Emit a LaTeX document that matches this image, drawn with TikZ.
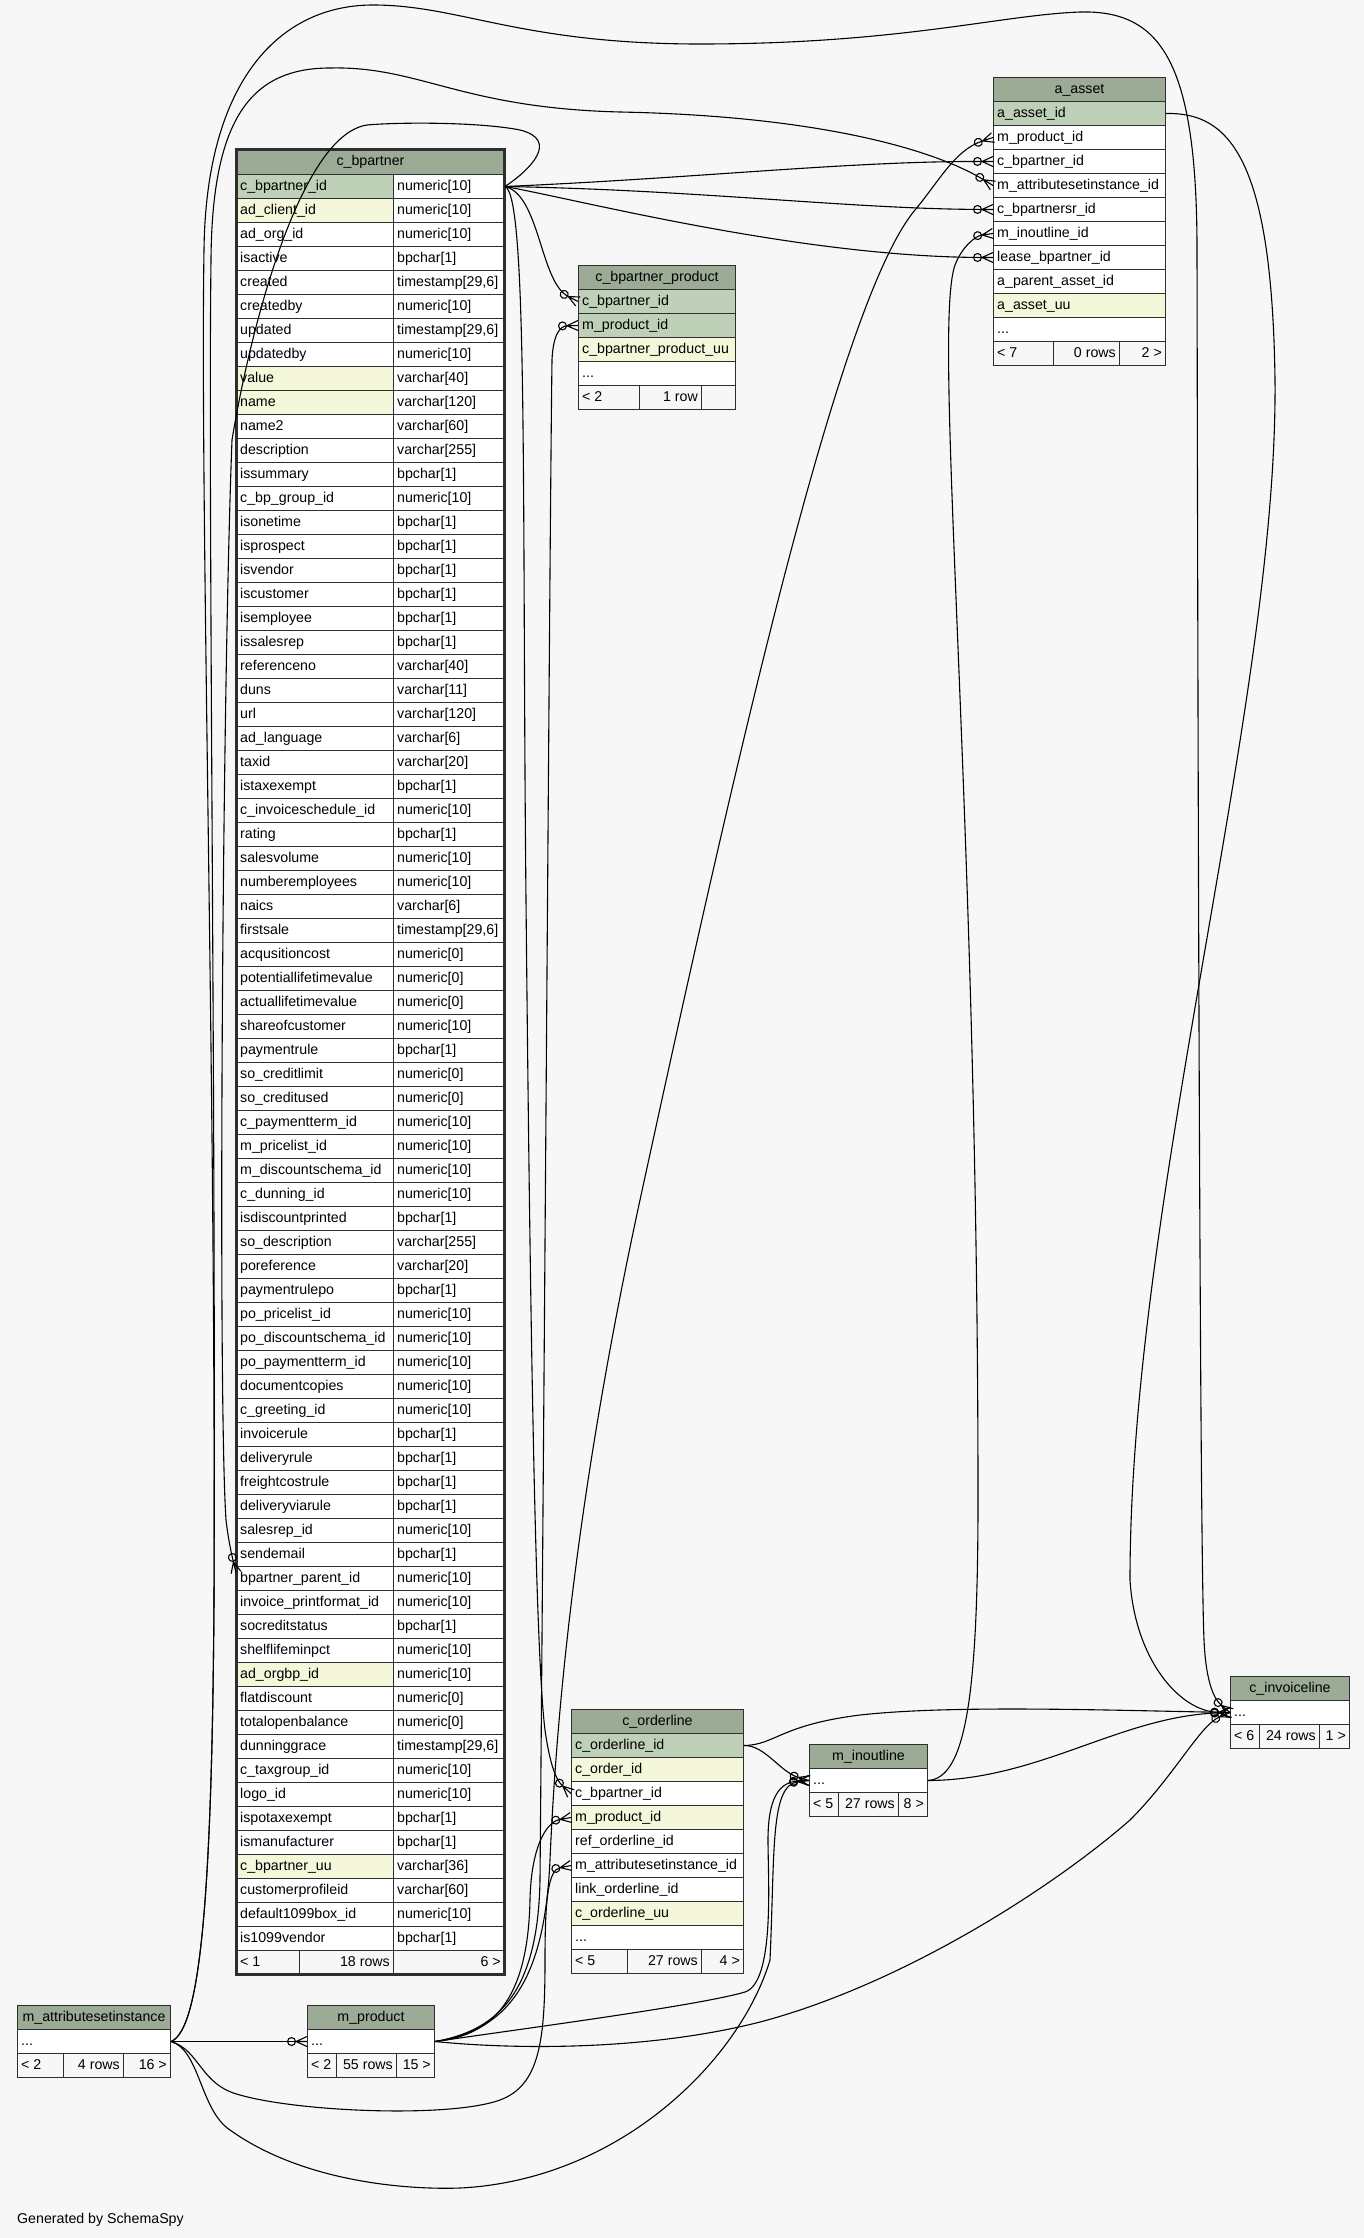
\documentclass[tikz,border=0pt]{standalone}
\usepackage{fontspec}
\setmainfont{Liberation Sans}
\usetikzlibrary{arrows.meta}

\definecolor{pagebg}{HTML}{F7F7F7}
\definecolor{headbg}{HTML}{9BAB96}
\definecolor{pkbg}{HTML}{BED1B8}
\definecolor{ixbg}{HTML}{F4F7DA}
\definecolor{rule}{HTML}{2E2E2E}
\newcommand\tsix{timestamp[29,6]}
\newcommand\rowdots{...}

% crow's foot for the many end
\pgfdeclarearrow{
  name = crowfoot,
  parameters = {\the\pgfarrowlength,\the\pgfarrowwidth},
  setup code = {
    \pgfarrowssettipend{0pt}
    \pgfarrowssetlineend{-\pgfarrowlength}
    \pgfarrowssetbackend{-\pgfarrowlength}
    \pgfarrowssavethe\pgfarrowlength
    \pgfarrowssavethe\pgfarrowwidth
  },
  drawing code = {
    \pgfpathmoveto{\pgfqpoint{-\pgfarrowlength}{0pt}}
    \pgfpathlineto{\pgfqpoint{0pt}{.5\pgfarrowwidth}}
    \pgfpathmoveto{\pgfqpoint{-\pgfarrowlength}{0pt}}
    \pgfpathlineto{\pgfqpoint{0pt}{0pt}}
    \pgfpathmoveto{\pgfqpoint{-\pgfarrowlength}{0pt}}
    \pgfpathlineto{\pgfqpoint{0pt}{-.5\pgfarrowwidth}}
    \pgfusepathqstroke
  },
  defaults = {length = 9pt, width = 8pt}
}

\tikzset{
  cell/.style={draw=rule, line width=1pt, inner sep=0pt, minimum height=24pt, anchor=north west, text height=10.5pt, text depth=3.5pt},
  head/.style={cell, fill=headbg},
  txt/.style={anchor=west, inner sep=0pt, xshift=4pt, text height=10.5pt, text depth=3.5pt},
  rtxt/.style={anchor=east, inner sep=0pt, xshift=-4pt, text height=10.5pt, text depth=3.5pt},
  fk/.style={draw=black, line width=1.1pt, -{Circle[open,length=9pt,width=9pt]crowfoot[length=11pt,width=10pt]}}
}

\begin{document}
\begin{tikzpicture}[x=1pt, y=-1pt, font=\fontsize{14.2}{17}\selectfont]
\useasboundingbox (0,0) rectangle (1364,2238);
\fill[pagebg] (0,0) rectangle (1364,2238);

% c_bpartner
\node[head, minimum width=268pt, minimum height=25pt] (bph) at (236,149) {c\_bpartner};
\foreach \nm/\ty/\fl [count=\i from 0] in {c\_bpartner\_id/numeric[10]/pkbg, ad\_client\_id/numeric[10]/ixbg, ad\_org\_id/numeric[10]/white,
 isactive/bpchar[1]/white, created/\tsix/white, createdby/numeric[10]/white,
 updated/\tsix/white, updatedby/numeric[10]/white, value/varchar[40]/ixbg,
 name/varchar[120]/ixbg, name2/varchar[60]/white, description/varchar[255]/white,
 issummary/bpchar[1]/white, c\_bp\_group\_id/numeric[10]/white, isonetime/bpchar[1]/white,
 isprospect/bpchar[1]/white, isvendor/bpchar[1]/white, iscustomer/bpchar[1]/white,
 isemployee/bpchar[1]/white, issalesrep/bpchar[1]/white, referenceno/varchar[40]/white,
 duns/varchar[11]/white, url/varchar[120]/white, ad\_language/varchar[6]/white,
 taxid/varchar[20]/white, istaxexempt/bpchar[1]/white, c\_invoiceschedule\_id/numeric[10]/white,
 rating/bpchar[1]/white, salesvolume/numeric[10]/white, numberemployees/numeric[10]/white,
 naics/varchar[6]/white, firstsale/\tsix/white, acqusitioncost/numeric[0]/white,
 potentiallifetimevalue/numeric[0]/white, actuallifetimevalue/numeric[0]/white, shareofcustomer/numeric[10]/white,
 paymentrule/bpchar[1]/white, so\_creditlimit/numeric[0]/white, so\_creditused/numeric[0]/white,
 c\_paymentterm\_id/numeric[10]/white, m\_pricelist\_id/numeric[10]/white, m\_discountschema\_id/numeric[10]/white,
 c\_dunning\_id/numeric[10]/white, isdiscountprinted/bpchar[1]/white, so\_description/varchar[255]/white,
 poreference/varchar[20]/white, paymentrulepo/bpchar[1]/white, po\_pricelist\_id/numeric[10]/white,
 po\_discountschema\_id/numeric[10]/white, po\_paymentterm\_id/numeric[10]/white, documentcopies/numeric[10]/white,
 c\_greeting\_id/numeric[10]/white, invoicerule/bpchar[1]/white, deliveryrule/bpchar[1]/white,
 freightcostrule/bpchar[1]/white, deliveryviarule/bpchar[1]/white, salesrep\_id/numeric[10]/white,
 sendemail/bpchar[1]/white, bpartner\_parent\_id/numeric[10]/white, invoice\_printformat\_id/numeric[10]/white,
 socreditstatus/bpchar[1]/white, shelflifeminpct/numeric[10]/white, ad\_orgbp\_id/numeric[10]/ixbg,
 flatdiscount/numeric[0]/white, totalopenbalance/numeric[0]/white, dunninggrace/\tsix/white,
 c\_taxgroup\_id/numeric[10]/white, logo\_id/numeric[10]/white, ispotaxexempt/bpchar[1]/white,
 ismanufacturer/bpchar[1]/white, c\_bpartner\_uu/varchar[36]/ixbg, customerprofileid/varchar[60]/white,
 default1099box\_id/numeric[10]/white, is1099vendor/bpchar[1]/white} {
    \node[cell, fill=\fl, minimum width=157pt] (bp\i) at (236,{174+24*\i}) {};
    \node[txt] at (bp\i.west) {\nm};
    \node[cell, fill=white, minimum width=111pt] (bpt\i) at (393,{174+24*\i}) {};
    \node[txt] at (bpt\i.west) {\ty};
}
\node[cell, fill=pagebg, minimum width=63pt] (bpf1) at (236,1950) {};
\node[txt] at (bpf1.west) {< 1};
\node[cell, fill=pagebg, minimum width=94pt] (bpf2) at (299,1950) {};
\node[rtxt] at (bpf2.east) {18 rows};
\node[cell, fill=pagebg, minimum width=111pt] (bpf3) at (393,1950) {};
\node[rtxt] at (bpf3.east) {6 >};
\draw[rule, line width=3pt] (236,149) rectangle (504,1974);

% a_asset
\node[head, minimum width=172pt] (aah) at (993,77) {a\_asset};
\foreach \nm/\fl [count=\i from 0] in {a\_asset\_id/pkbg, m\_product\_id/white, c\_bpartner\_id/white, m\_attributesetinstance\_id/white, c\_bpartnersr\_id/white, m\_inoutline\_id/white, lease\_bpartner\_id/white, a\_parent\_asset\_id/white, a\_asset\_uu/ixbg, \rowdots/white} {
    \node[cell, fill=\fl, minimum width=172pt] (aa\i) at (993,{101+24*\i}) {};
    \node[txt] at (aa\i.west) {\nm};
}
\node[cell, fill=pagebg, minimum width=60pt] (aaf1) at (993,341) {};
\node[txt] at (aaf1.west) {< 7};
\node[cell, fill=pagebg, minimum width=66pt] (aaf2) at (1053,341) {};
\node[rtxt] at (aaf2.east) {0 rows};
\node[cell, fill=pagebg, minimum width=46pt] (aaf3) at (1119,341) {};
\node[rtxt] at (aaf3.east) {2 >};

% c_bpartner_product
\node[head, minimum width=157pt] (bpph) at (578,265) {c\_bpartner\_product};
\foreach \nm/\fl [count=\i from 0] in {c\_bpartner\_id/pkbg, m\_product\_id/pkbg, c\_bpartner\_product\_uu/ixbg, \rowdots/white} {
    \node[cell, fill=\fl, minimum width=157pt] (bpp\i) at (578,{289+24*\i}) {};
    \node[txt] at (bpp\i.west) {\nm};
}
\node[cell, fill=pagebg, minimum width=61pt] (bppf1) at (578,385) {};
\node[txt] at (bppf1.west) {< 2};
\node[cell, fill=pagebg, minimum width=62pt] (bppf2) at (639,385) {};
\node[rtxt] at (bppf2.east) {1 row};
\node[cell, fill=pagebg, minimum width=34pt] (bppf3) at (701,385) {};

% c_orderline
\node[head, minimum width=172pt] (coh) at (571,1709) {c\_orderline};
\foreach \nm/\fl [count=\i from 0] in {c\_orderline\_id/pkbg, c\_order\_id/ixbg, c\_bpartner\_id/white, m\_product\_id/ixbg, ref\_orderline\_id/white, m\_attributesetinstance\_id/white, link\_orderline\_id/white, c\_orderline\_uu/ixbg, \rowdots/white} {
    \node[cell, fill=\fl, minimum width=172pt] (co\i) at (571,{1733+24*\i}) {};
    \node[txt] at (co\i.west) {\nm};
}
\node[cell, fill=pagebg, minimum width=56pt] (cof1) at (571,1949) {};
\node[txt] at (cof1.west) {< 5};
\node[cell, fill=pagebg, minimum width=74pt] (cof2) at (627,1949) {};
\node[rtxt] at (cof2.east) {27 rows};
\node[cell, fill=pagebg, minimum width=42pt] (cof3) at (701,1949) {};
\node[rtxt] at (cof3.east) {4 >};

% m_inoutline
\node[head, minimum width=118pt] (mih) at (809,1744) {m\_inoutline};
\node[cell, fill=white, minimum width=118pt] (mii) at (809,1768) {};
\node[txt] at (mii.west) {...};
\node[cell, fill=pagebg, minimum width=29pt] (mif1) at (809,1792) {};
\node[txt] at (mif1.west) {< 5};
\node[cell, fill=pagebg, minimum width=60pt] (mif2) at (838,1792) {};
\node[rtxt] at (mif2.east) {27 rows};
\node[cell, fill=pagebg, minimum width=29pt] (mif3) at (898,1792) {};
\node[rtxt] at (mif3.east) {8 >};

% c_invoiceline
\node[head, minimum width=119pt] (cih) at (1230,1676) {c\_invoiceline};
\node[cell, fill=white, minimum width=119pt] (cii) at (1230,1700) {};
\node[txt] at (cii.west) {...};
\node[cell, fill=pagebg, minimum width=29pt] (cif1) at (1230,1724) {};
\node[txt] at (cif1.west) {< 6};
\node[cell, fill=pagebg, minimum width=60pt] (cif2) at (1259,1724) {};
\node[rtxt] at (cif2.east) {24 rows};
\node[cell, fill=pagebg, minimum width=30pt] (cif3) at (1319,1724) {};
\node[rtxt] at (cif3.east) {1 >};

% m_attributesetinstance
\node[head, minimum width=153pt] (mah) at (17,2005) {m\_attributesetinstance};
\node[cell, fill=white, minimum width=153pt] (mai) at (17,2029) {};
\node[txt] at (mai.west) {...};
\node[cell, fill=pagebg, minimum width=46pt] (maf1) at (17,2053) {};
\node[txt] at (maf1.west) {< 2};
\node[cell, fill=pagebg, minimum width=60pt] (maf2) at (63,2053) {};
\node[rtxt] at (maf2.east) {4 rows};
\node[cell, fill=pagebg, minimum width=47pt] (maf3) at (123,2053) {};
\node[rtxt] at (maf3.east) {16 >};

% m_product
\node[head, minimum width=127pt] (mph) at (307,2005) {m\_product};
\node[cell, fill=white, minimum width=127pt] (mpi) at (307,2029) {};
\node[txt] at (mpi.west) {...};
\node[cell, fill=pagebg, minimum width=29pt] (mpf1) at (307,2053) {};
\node[txt] at (mpf1.west) {< 2};
\node[cell, fill=pagebg, minimum width=60pt] (mpf2) at (336,2053) {};
\node[rtxt] at (mpf2.east) {55 rows};
\node[cell, fill=pagebg, minimum width=38pt] (mpf3) at (396,2053) {};
\node[rtxt] at (mpf3.east) {15 >};

\node[anchor=base west, inner sep=0pt] (gen) at (17,2223) {Generated by SchemaSpy};

% Edges from c_bpartner
\draw[fk] (bpt0.east) .. controls (700,178) and (850,161) .. (aa2.west);
\draw[fk] (bpt0.east) .. controls (700,190) and (850,209) .. (aa4.west);
\draw[fk] (bpt0.east) .. controls (580,200) and (800,257) .. (aa6.west);
\draw[fk] (bpt0.east) .. controls (540,195) and (540,282) .. (bpp0.west);
\draw[fk] (bpt0.east) .. controls (528,195) and (522,500) .. (526,900) .. controls (530,1300) and (535,1650) .. (545,1730) .. controls (550,1765) and (556,1780) .. (co2.west);
\draw[fk] (bpt0.east) .. controls (530,170) and (560,140) .. (520,130) .. controls (480,122) and (400,122) .. (367,125) .. controls (300,135) and (250,330) .. (232,440) .. controls (222,700) and (218,1400) .. (226,1520) .. controls (229,1545) and (233,1560) .. ([yshift=6pt]bp58.west);

% Edges from m_attributesetinstance
\draw[fk] (mai.east) -- (mpi.west);
\draw[fk] (mai.east) .. controls (200,2030) and (212,1900) .. (214,1600) .. controls (216,1100) and (208,500) .. (211,260) .. controls (212,120) and (250,68) .. (330,68) .. controls (420,66) and (460,108) .. (620,112) .. controls (820,116) and (935,150) .. (aa3.west);
\draw[fk] (mai.east) .. controls (200,2030) and (212,1900) .. (214,1600) .. controls (216,1100) and (200,500) .. (204,250) .. controls (206,80) and (280,5) .. (373,5) .. controls (460,5) and (520,44) .. (700,44) .. controls (900,44) and (1000,15) .. (1080,12) .. controls (1160,10) and (1197,60) .. (1197,250) .. controls (1198,800) and (1200,1550) .. (1204,1640) .. controls (1206,1685) and (1215,1700) .. (cii.west);
\draw[fk] (mai.east) .. controls (200,2050) and (200,2085) .. (240,2095) .. controls (300,2112) and (450,2118) .. (500,2100) .. controls (540,2085) and (545,2040) .. (545,1960) .. controls (545,1900) and (548,1870) .. (co5.west);
\draw[fk] (mai.east) .. controls (200,2050) and (200,2110) .. (230,2130) .. controls (300,2180) and (400,2190) .. (460,2188) .. controls (620,2180) and (740,2060) .. (770,1960) .. controls (775,1850) and (770,1785) .. (mii.west);

% Edges from m_product
\draw[fk] (mpi.east) .. controls (500,2035) and (528,1990) .. (530,1900) .. controls (531,1850) and (545,1822) .. (co3.west);
\draw[fk] (mpi.east) .. controls (500,2030) and (538,1990) .. (540,1880) .. controls (545,1300) and (550,500) .. (552,360) .. controls (553,335) and (560,326) .. (bpp1.west);
\draw[fk] (mpi.east) .. controls (515,2030) and (545,1970) .. (550,1860) .. controls (556,1720) and (575,1500) .. (640,1200) .. controls (740,740) and (840,300) .. (915,210) .. controls (940,180) and (955,150) .. (aa1.west);
\draw[fk] (mpi.east) .. controls (550,2025) and (700,2005) .. (745,1992) .. controls (775,1982) and (768,1880) .. (768,1840) .. controls (768,1800) and (778,1782) .. (mii.west);
\draw[fk] (mpi.east) .. controls (520,2050) and (650,2050) .. (760,2022) .. controls (900,1985) and (1050,1890) .. (1130,1820) .. controls (1175,1775) and (1200,1725) .. (cii.west);

% Edges from c_orderline, m_inoutline, a_asset
\draw[fk] (co0.east) .. controls (765,1745) and (780,1772) .. (mii.west);
\draw[fk] (co0.east) .. controls (775,1745) and (780,1725) .. (860,1715) .. controls (950,1705) and (1100,1710) .. (cii.west);
\draw[fk] (mii.east) .. controls (1040,1780) and (1120,1716) .. (cii.west);
\draw[fk] (mii.east) .. controls (965,1778) and (978,1700) .. (978,1500) .. controls (978,800) and (932,330) .. (955,265) .. controls (962,247) and (975,236) .. (aa5.west);
\draw[fk] (aa0.east) .. controls (1230,112) and (1272,160) .. (1275,380) .. controls (1278,700) and (1130,1200) .. (1130,1580) .. controls (1135,1660) and (1180,1712) .. (cii.west);
\end{tikzpicture}
\end{document}
